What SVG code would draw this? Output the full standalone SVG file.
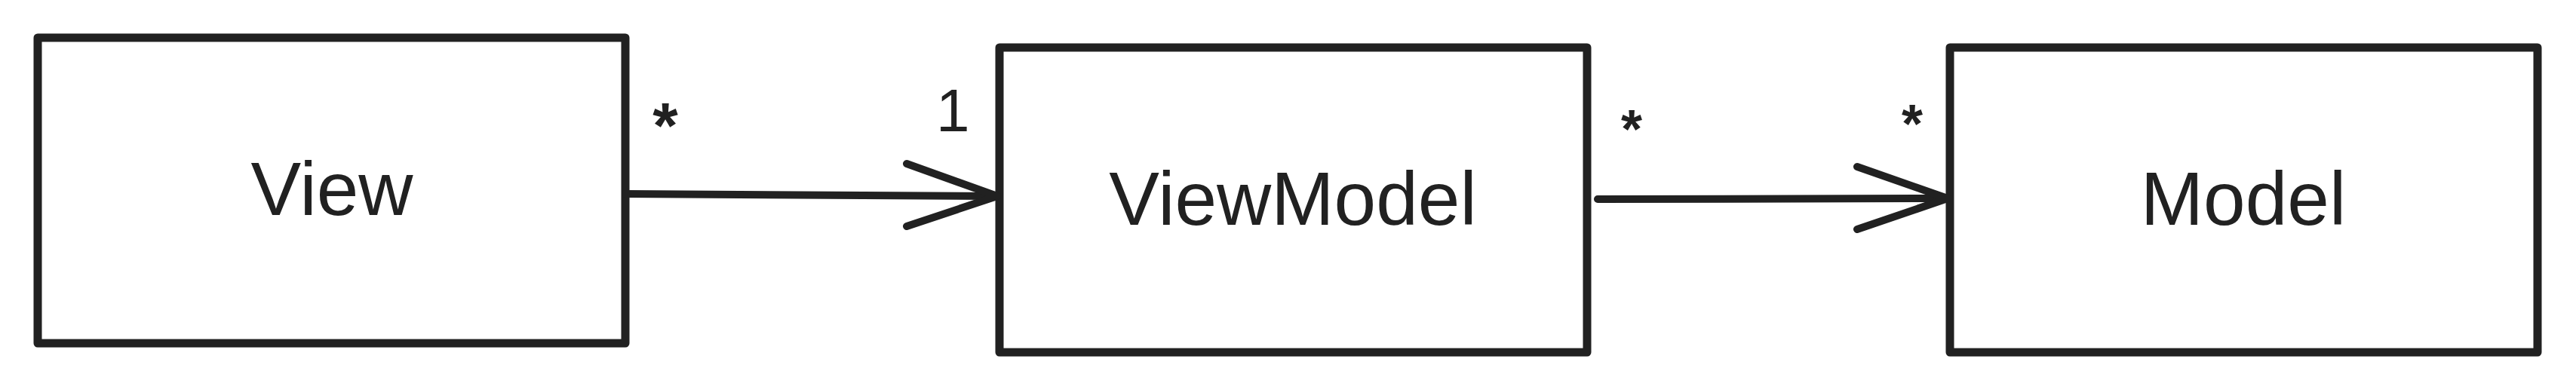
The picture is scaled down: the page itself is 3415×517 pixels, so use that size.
<svg xmlns="http://www.w3.org/2000/svg" width="3415" height="517" viewBox="0 0 3415 517">
<style>
.box{fill:#fff;stroke:#212121;stroke-width:11;stroke-linejoin:round}
.lbl{font-family:"Liberation Sans",Arial,sans-serif;font-size:100px;fill:#212121;text-anchor:middle}
.mult{font-family:"Liberation Sans",Arial,sans-serif;fill:#212121}
.edge{fill:none;stroke:#212121;stroke-width:10;stroke-linecap:round;stroke-linejoin:round}
</style>
<rect width="3415" height="517" fill="#fff"/>
<g id="node-view">
<rect class="box" x="50" y="50" width="779" height="405"/>
<text class="lbl" x="440" y="285">View</text>
</g>
<g id="node-viewmodel">
<rect class="box" x="1325" y="63" width="779" height="404"/>
<text class="lbl" x="1714" y="298">ViewModel</text>
</g>
<g id="node-model">
<rect class="box" x="2585" y="63" width="779" height="404"/>
<text class="lbl" x="2974" y="298">Model</text>
</g>
<g id="connectors">
<path class="edge" d="M829,257 L1322,260"/>
<path class="edge" d="M1202,217 L1322,260 L1202,300"/>
<text class="mult" x="882" y="196" font-size="86" font-weight="bold" text-anchor="middle">*</text>
<text class="mult" x="1241" y="174" font-size="80">1</text>
<path class="edge" d="M2118,264 L2582,263"/>
<path class="edge" d="M2462,221 L2582,263 L2462,304"/>
<text class="mult" x="2163" y="196" font-size="72" font-weight="bold" text-anchor="middle">*</text>
<text class="mult" x="2535" y="189" font-size="72" font-weight="bold" text-anchor="middle">*</text>
</g>
</svg>
